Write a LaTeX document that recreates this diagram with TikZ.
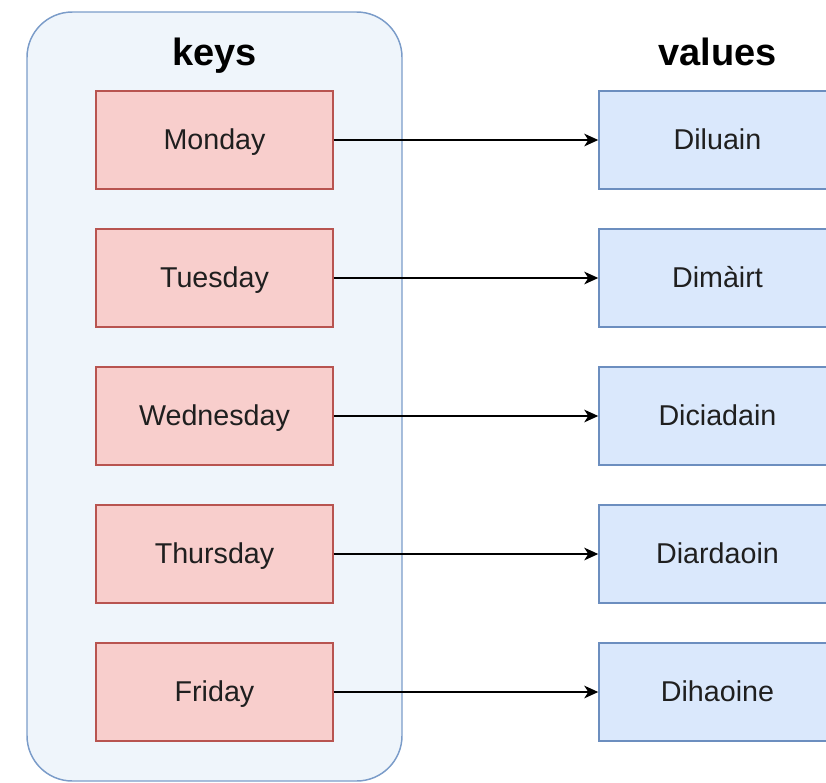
\documentclass[tikz,border=0pt]{standalone}
\usepackage{fontspec}
\setmainfont{Liberation Sans}
\usetikzlibrary{arrows.meta}
\definecolor{contfill}{HTML}{EFF5FB}
\definecolor{contdraw}{HTML}{7B9CC9}
\definecolor{keyfill}{HTML}{F8CECC}
\definecolor{keydraw}{HTML}{B85450}
\definecolor{valfill}{HTML}{DAE8FC}
\definecolor{valdraw}{HTML}{6C8EBF}
\tikzset{
  boxbase/.style={line width=1.1pt, minimum width=177.75pt, minimum height=73.5pt, inner sep=0pt, font=\fontsize{21.5pt}{24pt}\selectfont, text=black!88, text height=19.5pt, text depth=4.55pt},
  keybox/.style={boxbase, draw=keydraw, fill=keyfill},
  valbox/.style={boxbase, draw=valdraw, fill=valfill},
  title/.style={font=\bfseries\fontsize{28.5pt}{32pt}\selectfont, inner sep=0pt, text height=25.8pt, text depth=6pt},
  link/.style={line width=1.1pt, -{Stealth[length=10.5pt, width=9.5pt, inset=3pt]}}
}
\begin{document}
\begin{tikzpicture}[x=0.75pt, y=-0.75pt]
\useasboundingbox (0,0) rectangle (826,783);
\clip (0,0) rectangle (826,783);
\draw[draw=contdraw, fill=contfill, line width=1.1pt, rounded corners=34pt] (27,12) rectangle (402,781);
\node[title] (keys) at (214.5,52) {keys};
\node[title] (values) at (717.5,52) {values};
\node[keybox] (k1) at (214.5,140) {Monday};
\node[keybox] (k2) at (214.5,278) {Tuesday};
\node[keybox] (k3) at (214.5,416) {Wednesday};
\node[keybox] (k4) at (214.5,554) {Thursday};
\node[keybox] (k5) at (214.5,692) {Friday};
\node[valbox] (v1) at (717.5,140) {Diluain};
\node[valbox] (v2) at (717.5,278) {Dimàirt};
\node[valbox] (v3) at (717.5,416) {Diciadain};
\node[valbox] (v4) at (717.5,554) {Diardaoin};
\node[valbox] (v5) at (717.5,692) {Dihaoine};
\foreach \i in {1,...,5} \draw[link] (k\i) -- (v\i);
\end{tikzpicture}
\end{document}
